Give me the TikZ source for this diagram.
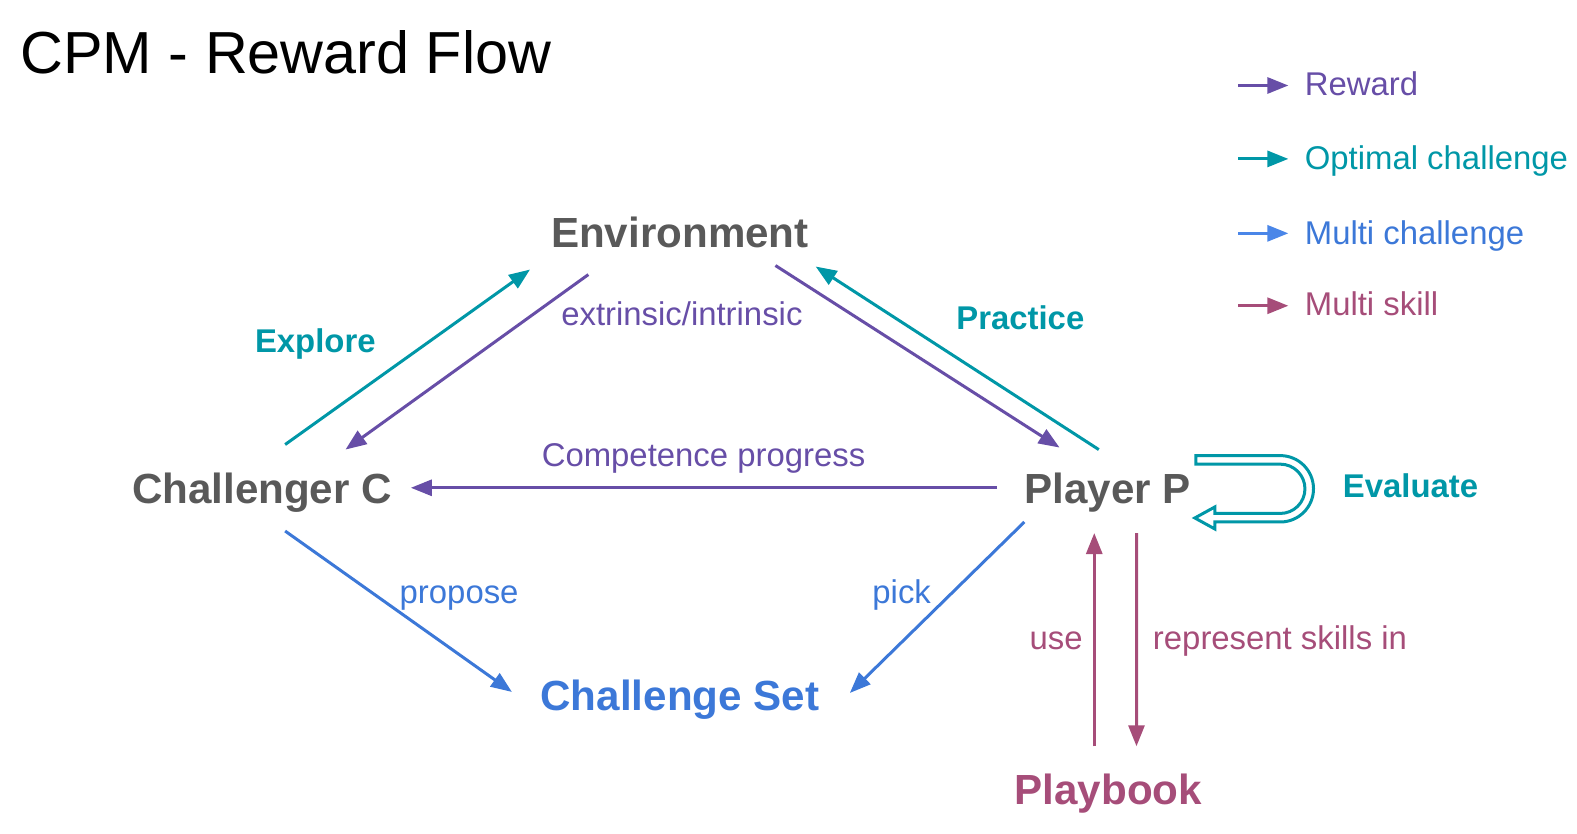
\documentclass[tikz,border=0pt]{standalone}
\usepackage{fontspec}
\setmainfont{Liberation Sans}
\usepackage{tikz}
\usetikzlibrary{calc,arrows.meta}
\usepackage{xcolor}
\definecolor{rewc}{HTML}{674EA7}
\definecolor{optc}{HTML}{0097A7}
\definecolor{mchc}{HTML}{3C78D8}
\definecolor{mchl}{HTML}{4A86E8}
\definecolor{mskc}{HTML}{A64D79}
\definecolor{entc}{HTML}{595959}

\begin{document}
\begin{tikzpicture}[x=0.50287bp, y=-0.50287bp,
  ent/.style={font=\fontsize{21.07bp}{25bp}\selectfont\bfseries, text=entc, inner sep=0, text height=15.09bp, text depth=0pt},
  lab/.style={font=\fontsize{16.44bp}{19bp}\selectfont, inner sep=0, text height=11.77bp, text depth=0pt},
  blab/.style={lab, font=\fontsize{16.44bp}{19bp}\selectfont\bfseries, text=optc},
  flow/.style={line width=1.5bp, -{Triangle[length=10.5bp, width=8bp]}},
  rew/.style={flow, draw=rewc},
  opt/.style={flow, draw=optc},
  mch/.style={flow, draw=mchc},
  msk/.style={flow, draw=mskc}]

\useasboundingbox (0,0) rectangle (1568,828.3);

\node[font=\fontsize{29.67bp}{34bp}\selectfont, inner sep=0, text height=21.22bp, text depth=0pt, anchor=west] (title) at (20,52) {CPM - Reward Flow};

\node[ent] (env) at (676,231) {Environment};
\node[ent] (chal) at (260.5,486) {Challenger C};
\node[ent] (player) at (1101.5,486) {Player P};
\node[ent, text=mchc] (cset) at (676,691) {Challenge Set};
\node[ent, text=mskc] (book) at (1102,785) {Playbook};

\draw[opt] ($(chal)+(23,-44)$) -- ($(env)+(-149,37)$);
\draw[rew] ($(env)+(-91,42)$) -- ($(chal)+(83,-39)$);
\draw[rew] ($(env)+(95,33)$) -- ($(player)+(-48,-41)$);
\draw[opt] ($(player)+(-9,-39)$) -- ($(env)+(135,34)$);
\draw[rew] ($(player)+(-110,-1)$) -- ($(chal)+(148,-1)$);
\draw[mch] ($(chal)+(23,42)$) -- ($(cset)+(-167,-3)$);
\draw[mch] ($(player)+(-83,33)$) -- ($(cset)+(169,-2)$);
\draw[msk] ($(book)+(-14,-43)$) -- ($(player)+(-13.5,44)$);
\draw[msk] ($(player)+(28.5,44)$) -- ($(book)+(28,-43)$);

\draw[optc, line width=1.5bp, line join=miter, fill=white] (1189,453) -- (1273,453) arc[start angle=-90, end angle=90, radius=33] -- (1208,519) -- (1208,526) -- (1188,515) -- (1208,504) -- (1208,510.5) -- (1273,510.5) arc[start angle=90, end angle=-90, radius=24.5] -- (1189,461.5) -- cycle;

\node[blab] (explore) at (313.5,339) {Explore};
\node[lab, text=rewc] (extr) at (678,312) {extrinsic/intrinsic};
\node[blab] (practice) at (1014.5,316) {Practice};
\node[lab, text=rewc] (comp) at (699.5,452) {Competence progress};
\node[lab, text=mchc] (propose) at (456.5,588) {propose};
\node[lab, text=mchc] (pick) at (896.5,588) {pick};
\node[lab, text=mskc] (use) at (1050,634) {use};
\node[lab, text=mskc, anchor=west] (repr) at (1146,634) {represent skills in};
\node[blab] (eval) at (1402.5,483) {Evaluate};

\node[lab, text=rewc, anchor=west] (lrew) at (1297,83) {Reward};
\node[lab, text=optc, anchor=west] (lopt) at (1297,157) {Optimal challenge};
\node[lab, text=mchc, anchor=west] (lmch) at (1297,231) {Multi challenge};
\node[lab, text=mskc, anchor=west] (lmsk) at (1297,302) {Multi skill};

\draw[rew] ($(lrew.west)+(-66,2)$) -- ($(lrew.west)+(-16,2)$);
\draw[opt] ($(lopt.west)+(-66,1)$) -- ($(lopt.west)+(-16,1)$);
\draw[flow, draw=mchl] ($(lmch.west)+(-66,1)$) -- ($(lmch.west)+(-16,1)$);
\draw[msk] ($(lmsk.west)+(-66,2)$) -- ($(lmsk.west)+(-16,2)$);

\end{tikzpicture}
\end{document}
